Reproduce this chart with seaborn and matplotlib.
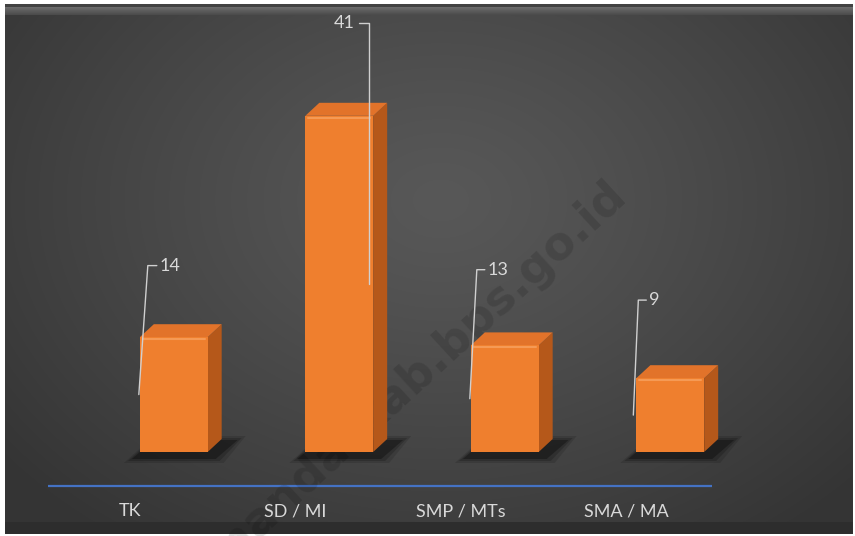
import matplotlib
matplotlib.use('Agg')

import matplotlib.pyplot as plt
import matplotlib.transforms as mtransforms
from matplotlib.patches import Polygon
import seaborn as sns
import numpy as np

# data
categories = ['TK', 'SD / MI', 'SMP / MTs', 'SMA / MA']
values = [14, 41, 13, 9]

# leader line style per label (pixels): anchor side, anchor dx, corner dx, corner dy, tail dx
label_side = ['left', 'right', 'left', 'left']
anchor_dx = [-1, -4, -1, -3]
corner_dx = [9, 0, 7, 5]
corner_dy = [129, 261, 129, 115]
tail_dx = [9, -10, 8, 8]

front = '#EF7F2E'
side = '#B5581A'
top = '#E2732A'
txt = '#D9D9D9'

sns.set_style('white')
plt.rcParams['font.family'] = ['Lato', 'DejaVu Sans']

W, H = 855, 536
fig = plt.figure(figsize=(W / 100, H / 100), dpi=100)
fig.patch.set_facecolor('white')

# background panel with soft radial gradient
yy, xx = np.mgrid[0:H, 0:W]
r = np.sqrt(((xx - 440) / 560.0) ** 2 + ((yy - 200) / 420.0) ** 2)
v = 0.345 - 0.14 * np.clip(r, 0, 1) ** 1.2
v[4:7, :] = 0.26
band = np.linspace(0.42, 0.30, 8)
v[7:15, :] = np.maximum(v[7:15, :], band[:, None])
v[522:534, :] = np.minimum(v[522:534, :], 0.18)
img = np.ones((H, W, 3))
panel = np.zeros((H, W), bool)
panel[4:534, 5:852] = True
for c in range(3):
    img[..., c][panel] = v[panel]

bg = fig.add_axes([0, 0, 1, 1], zorder=0)
bg.imshow(img, extent=(0, W, H, 0), aspect='auto', interpolation='bilinear')
bg.set_xlim(0, W)
bg.set_ylim(H, 0)
bg.axis('off')

# watermark
bg.text(628, 198, 'polewalimandarkab.bps.go.id', rotation=42.6,
        rotation_mode='anchor', ha='right', va='baseline',
        fontsize=33, fontweight='bold', color='black', alpha=0.13,
        family='DejaVu Sans')

# floor line
bg.plot([48, 712], [486, 486], color='#4472C4', lw=1.6, solid_capstyle='butt')

# main chart
ax = fig.add_axes([91 / W, (H - 452) / H, 662 / W, 410 / H], zorder=1)
ax.patch.set_alpha(0)
sns.barplot(x=categories, y=values, color=front, saturation=1, width=0.41,
            linewidth=0, edgecolor=front, ax=ax, zorder=3)
ax.set_xlim(-0.5, 3.5)
ax.set_ylim(0, 50)
ax.set_xlabel('')
ax.set_ylabel('')
ax.set_yticks([])
sns.despine(ax=ax, left=True, bottom=True)
ax.tick_params(axis='x', length=0, pad=37, labelsize=13, labelcolor=txt)
shift = mtransforms.ScaledTranslation(-44 / 100, 0, fig.dpi_scale_trans)
for lab in ax.get_xticklabels():
    lab.set_transform(lab.get_transform() + shift)

ident = mtransforms.IdentityTransform()
dx, dy = 14, 13
for i, p in enumerate(ax.patches):
    x0, w, h = p.get_x(), p.get_width(), p.get_height()
    (L, B), (R, T) = ax.transData.transform([(x0, 0), (x0 + w, h)])
    # shadow
    for k, a in [(10, 0.12), (6, 0.18), (2, 0.3)]:
        ax.add_patch(Polygon([(L - 6 - k, B - 6 - k / 2), (R + 6 + k, B - 6 - k / 2),
                              (R + dx + 14 + k, B + dy - 2 + k / 2), (L + dx, B + dy - 2 + k / 2)],
                             closed=True, facecolor='black', edgecolor='none', alpha=a,
                             transform=ident, zorder=1, clip_on=False))
    ax.add_patch(Polygon([(R, B), (R + dx, B + dy), (R + dx, T + dy), (R, T)],
                         closed=True, facecolor=side, edgecolor='none',
                         transform=ident, zorder=2, clip_on=False))
    ax.add_patch(Polygon([(L, T), (R, T), (R + dx, T + dy), (L + dx, T + dy)],
                         closed=True, facecolor=top, edgecolor='none',
                         transform=ident, zorder=2, clip_on=False))
    ax.plot([L + 3, R - 3], [T - 2, T - 2], color='#F59A55', lw=1.5,
            transform=ident, zorder=4, clip_on=False)

    # data label with leader line
    ax_ = (L if label_side[i] == 'left' else R) + anchor_dx[i]
    ay_ = (B + T) / 2
    cx, cy = ax_ + corner_dx[i], ay_ + corner_dy[i]
    ex = cx + tail_dx[i]
    ax.plot([ax_, cx, ex], [ay_, cy, cy], color='#D0D0D0', lw=1.0,
            transform=ident, zorder=5, clip_on=False)
    if tail_dx[i] > 0:
        ax.text(ex + 3, cy, str(values[i]), ha='left', va='center',
                fontsize=13, color=txt, transform=ident, zorder=5)
    else:
        ax.text(ex - 5, cy, str(values[i]), ha='right', va='center',
                fontsize=13, color=txt, transform=ident, zorder=5)

fig.savefig('out.png', dpi=100)
